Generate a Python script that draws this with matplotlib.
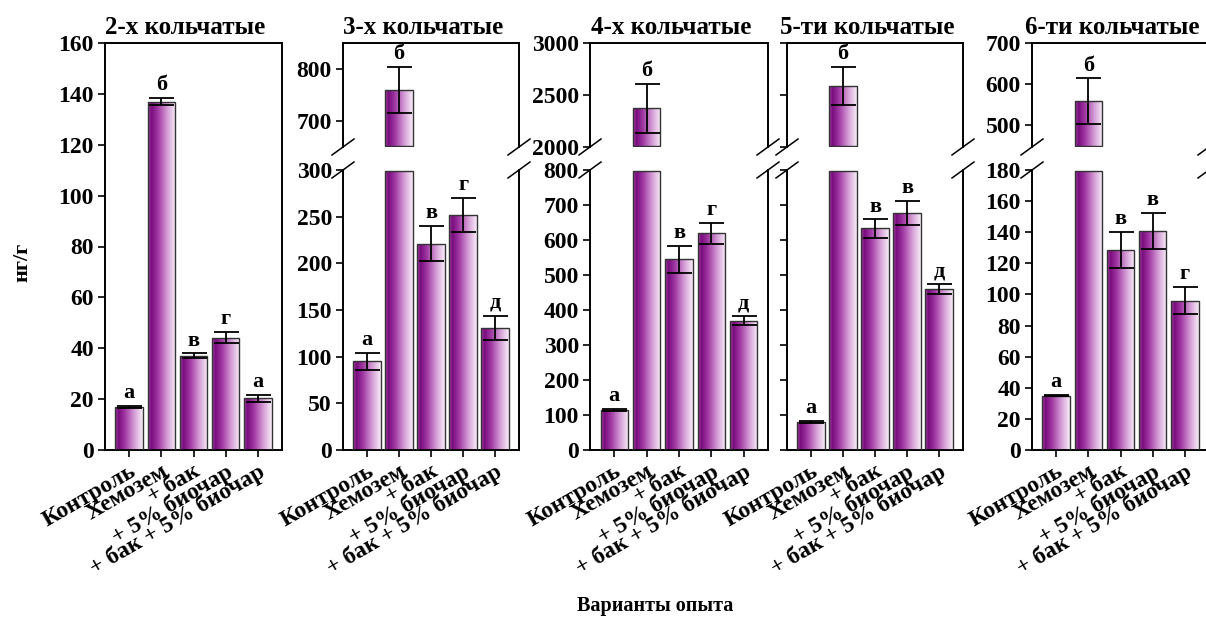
import numpy as np
import matplotlib
matplotlib.use('Agg')
import matplotlib.pyplot as plt
from matplotlib.colors import LinearSegmentedColormap
from matplotlib.lines import Line2D

# ---------------- data ----------------
categories = ['Контроль', 'Хемозем', '+ бак', '+ 5% биочар', '+ бак + 5% биочар']
titles = ['2-х кольчатые', '3-х кольчатые', '4-х кольчатые', '5-ти кольчатые', '6-ти кольчатые']

ring2_vals = [17, 137, 37, 44.2, 20.3]
ring2_err = [0.4, 1.4, 1.0, 2.1, 1.3]
ring2_letters = ['а', 'б', 'в', 'г', 'а']

ring3_vals = [95, 760, 221, 252, 131]
ring3_err = [9, 44, 19, 18, 13]
ring3_letters = ['а', 'б', 'в', 'г', 'д']

ring4_vals = [114, 2371, 545, 619, 370]
ring4_err = [3, 235, 38, 31, 13]
ring4_letters = ['а', 'б', 'в', 'г', 'д']

ring5_vals = [81, 2587, 633, 678, 459]
ring5_err = [3, 185, 26, 34, 14]
ring5_letters = ['а', 'б', 'в', 'в', 'д']

ring6_vals = [35, 557, 128.6, 140.9, 96]
ring6_err = [0.6, 56, 11.7, 11.4, 8.8]
ring6_letters = ['а', 'б', 'в', 'в', 'г']

# ---------------- style ----------------
W, H = 1206, 626
SERIF = ['Liberation Serif', 'DejaVu Serif']
plt.rcParams['font.family'] = SERIF
plt.rcParams['font.weight'] = 'bold'

fig = plt.figure(figsize=(W / 100, H / 100), dpi=100)
fig.patch.set_facecolor('white')

cmap = LinearSegmentedColormap.from_list('grad', [
    (0.0, '#a44aa6'), (0.12, '#7a0c7e'), (0.35, '#9f36a2'),
    (0.7, '#d6a0d7'), (1.0, '#f8eff8')])
grad = np.linspace(0, 1, 256).reshape(1, -1)
x = np.arange(len(categories))
BW = 0.85
TICK_FS = 17
LBL_FS = 16
XT_FS = 15.5
SPINE_LW = 1.4


def rect(x0, x1, y0, y1):
    return [x0 / W, 1 - y1 / H, (x1 - x0) / W, (y1 - y0) / H]


def style_axes(ax):
    for s in ax.spines.values():
        s.set_linewidth(SPINE_LW)
        s.set_color('black')
    ax.tick_params(axis='both', direction='out', length=5, width=1.2,
                   labelsize=TICK_FS, colors='black', pad=3)
    for lab in ax.get_yticklabels():
        lab.set_fontweight('bold')


def draw_bars(ax, vals, errs, letters, lo, hi, clip_top=None, floor=None):
    heights = []
    bottoms = []
    for v in vals:
        b = 0 if floor is None else floor
        top = v if clip_top is None else min(v, clip_top)
        heights.append(max(top - b, 0))
        bottoms.append(b)
    bars = ax.bar(x, heights, width=BW, bottom=bottoms, facecolor='none',
                  edgecolor='#333333', linewidth=1.0, zorder=3)
    for b, h in zip(bars, heights):
        if h <= 0:
            b.set_visible(False)
            continue
        x0, y0 = b.get_x(), b.get_y()
        im = ax.imshow(grad, extent=(x0, x0 + b.get_width(), y0, y0 + h),
                       aspect='auto', cmap=cmap, origin='lower', zorder=2,
                       interpolation='bilinear')
        im.set_clip_path(b)
    ax.errorbar(x, vals, yerr=errs, fmt='none', ecolor='black', elinewidth=1.3,
                capsize=9, capthick=1.3, zorder=4)
    for i, (v, e, l) in enumerate(zip(vals, errs, letters)):
        if lo <= v + e <= hi:
            ax.annotate(l, (i, v + e), xytext=(0, 2), textcoords='offset points',
                        ha='center', va='bottom', fontsize=LBL_FS,
                        fontweight='bold', annotation_clip=False)
    ax.set_xlim(-0.75, len(categories) - 0.25)
    ax.set_ylim(lo, hi)


def set_xlabels(ax):
    ax.set_xticks(x)
    ax.set_xticklabels(categories, rotation=30, ha='right',
                       rotation_mode='anchor', fontsize=XT_FS, fontweight='bold')


def break_marks(x0, x1, y_up, y_lo):
    for xs in (x0, x1):
        for yc in (y_up, y_lo):
            fig.add_artist(Line2D([(xs - 11) / W, (xs + 11) / W],
                                  [1 - (yc + 8) / H, 1 - (yc - 8) / H],
                                  transform=fig.transFigure, color='black', lw=1.1))


TOP, BOT = 43, 450
UP_B, LO_T = 147, 170

# Panel 1 (no break)
ax1 = fig.add_axes(rect(105, 282, TOP, BOT))
draw_bars(ax1, ring2_vals, ring2_err, ring2_letters, 0, 160)
ax1.set_yticks(np.arange(0, 161, 20))
set_xlabels(ax1)
style_axes(ax1)


def broken_panel(x0, x1, vals, errs, letters, up_lim, up_ticks, lo_lim, lo_ticks,
                 show_labels=True):
    axu = fig.add_axes(rect(x0, x1, TOP, UP_B))
    axl = fig.add_axes(rect(x0, x1, LO_T, BOT))
    eps_u = (up_lim[1] - up_lim[0]) * 0.012
    eps_l = (lo_lim[1] - lo_lim[0]) * 0.002
    draw_bars(axu, vals, errs, letters, up_lim[0], up_lim[1], floor=up_lim[0] + eps_u)
    draw_bars(axl, vals, errs, letters, lo_lim[0], lo_lim[1], clip_top=lo_lim[1] - eps_l)
    axu.set_yticks(up_ticks)
    axl.set_yticks(lo_ticks)
    axu.set_ylim(*up_lim)
    axl.set_ylim(*lo_lim)
    axu.spines['bottom'].set_visible(False)
    axl.spines['top'].set_visible(False)
    axu.set_xticks([])
    set_xlabels(axl)
    style_axes(axu)
    style_axes(axl)
    if not show_labels:
        axu.tick_params(labelleft=False)
        axl.tick_params(labelleft=False)
    break_marks(x0, x1, UP_B, LO_T)
    return axu, axl


broken_panel(343, 519, ring3_vals, ring3_err, ring3_letters,
             (650, 850), [700, 800], (0, 300), np.arange(0, 301, 50))
broken_panel(590, 768, ring4_vals, ring4_err, ring4_letters,
             (2000, 3000), [2000, 2500, 3000], (0, 800), np.arange(0, 801, 100))
broken_panel(787, 963, ring5_vals, ring5_err, ring5_letters,
             (2000, 3000), [2000, 2500, 3000], (0, 800), np.arange(0, 801, 100),
             show_labels=False)
broken_panel(1032, 1209, ring6_vals, ring6_err, ring6_letters,
             (445, 700), [500, 600, 700], (0, 180), np.arange(0, 181, 20))

# Titles
for (xa, xb), t in zip([(105, 282), (343, 519), (590, 768), (787, 963), (1032, 1209)], titles):
    fig.text((xa + xb) / 2 / W - 8 / W, 1 - 28 / H, t, ha='center', va='center',
             fontsize=18, fontweight='bold')

fig.text(22 / W, 1 - 262 / H, 'нг/г', rotation=90, ha='center', va='center',
         fontsize=16, fontweight='bold')
fig.text(655 / W, 1 - 606 / H, 'Варианты опыта', ha='center', va='center',
         fontsize=14.5, fontweight='bold')

fig.savefig('out.png', dpi=100)
